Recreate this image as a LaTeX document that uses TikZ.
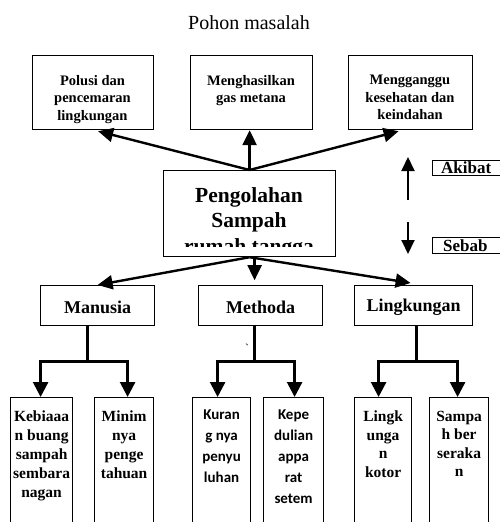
\documentclass[tikz,border=0pt]{standalone}
\usepackage{fontspec}
\setmainfont{Liberation Serif}
\newfontfamily\calfont{Carlito}
\usetikzlibrary{arrows.meta,calc}
\begin{document}
\begin{tikzpicture}[x=1pt,y=-1pt,
  box/.style={draw,line width=1.2pt,inner sep=0pt,anchor=north west},
  txt/.style={align=center,inner sep=0pt,font=\bfseries},
  arr/.style={line width=2.4pt,-{Triangle[width=14pt,length=15pt]}},
  tree/.style={line width=2.6pt},
  treearr/.style={line width=2.6pt,-{Triangle[width=15pt,length=15pt]}},
  sarr/.style={line width=2pt,-{Triangle[width=13pt,length=14pt]}},
  toptxt/.style={txt,anchor=north,font=\bfseries\fontsize{14.5}{17.5}\selectfont},
  midtxt/.style={txt,font=\bfseries\fontsize{18}{21}\selectfont},
  bottxt/.style={txt,anchor=north,font=\bfseries\fontsize{15.5}{19}\selectfont},
  caltxt/.style={txt,anchor=north,font=\calfont\bfseries\fontsize{15}{21}\selectfont},
  ]
\clip (0,0) rectangle (500,522);
\fill[white] (0,0) rectangle (500,522);

% title
\node (title) at (249,23) {\fontsize{20}{24}\selectfont Pohon masalah};

% top boxes (akibat)
\node[box,minimum width=121pt,minimum height=74pt] (e1) at (32,55) {};
\node[box,minimum width=122pt,minimum height=74pt] (e2) at (190,55) {};
\node[box,minimum width=124pt,minimum height=74pt] (e3) at (348,55) {};
\node[toptxt] (t1) at (92.5,75) {Polusi dan\\pencemaran\\lingkungan};
\node[toptxt] (t2) at (251,75) {Menghasilkan\\gas metana};
\node[toptxt] (t3) at (410,75) {Mengganggu\\kesehatan dan\\keindahan};

% central box
\node[box,minimum width=172pt,minimum height=86pt] (c) at (163,170) {};
\begin{scope}
  \clip (163,170) rectangle (335,246);
  \node[txt,anchor=north,font=\bfseries\fontsize{21.5}{25.5}\selectfont] (ct) at (249,187) {Pengolahan\\Sampah\\rumah tangga};
\end{scope}

% akibat / sebab
\node[box,minimum width=80pt,minimum height=15pt] (ak) at (432,160) {};
\node[box,minimum width=80pt,minimum height=16pt] (sb) at (432,237) {};
\node[inner sep=0pt,anchor=base west,font=\bfseries\fontsize{17}{20}\selectfont] (akt) at (441,173) {Akibat};
\node[inner sep=0pt,anchor=base west,font=\bfseries\fontsize{17}{20}\selectfont] (sbt) at (443,251) {Sebab};
\coordinate (ua) at (408,200);
\coordinate (ub) at (408,157);
\coordinate (da) at (408,222);
\coordinate (db) at (408,254);
\draw[sarr] (ua) -- (ub);
\draw[sarr] (da) -- (db);

% top arrows
\draw[arr] (c.north) -- ($(e1.south)+(5,1)$);
\draw[arr] (c.north) -- (c.north |- e2.south);
\draw[arr] (c.north) -- ($(e3.south)+(-12,1)$);

% middle boxes (sebab)
\node[box,minimum width=114pt,minimum height=40pt] (m1) at (40,285) {};
\node[box,minimum width=124pt,minimum height=40pt] (m2) at (198,285) {};
\node[box,minimum width=118pt,minimum height=40pt] (m3) at (354,285) {};
\node[midtxt] (m1t) at ($(m1.center)+(0,2)$) {Manusia};
\node[midtxt] (m2t) at ($(m2.center)+(0,2)$) {Methoda};
\node[midtxt] (m3t) at ($(m3.center)+(0,2)$) {Lingkungan};

% lower arrows
\draw[arr] (c.south) -- (m1.north);
\draw[arr] ($(c.south)+(5,0)$) -- ($(c.south)+(5,23)$);
\draw[arr] (c.south) -- ($(m3.north)+(-3,-2)$);

\node[inner sep=0pt,font=\fontsize{12}{12}\selectfont] (bt) at (247,348) {\textasciigrave};

% bottom boxes
\node[box,minimum width=62pt,minimum height=140pt] (a) at (10,397) {};
\node[box,minimum width=59pt,minimum height=140pt] (b) at (94,397) {};
\node[box,minimum width=58pt,minimum height=140pt] (cc) at (192,397) {};
\node[box,minimum width=60pt,minimum height=140pt] (d) at (263,397) {};
\node[box,minimum width=57pt,minimum height=140pt] (e) at (354,397) {};
\node[box,minimum width=59pt,minimum height=140pt] (f) at (429,397) {};

\node[bottxt] (at) at ($(a.north)+(0,14)$) {Kebiaaa\\n buang\\sampah\\sembara\\nagan};
\node[bottxt] (btt) at ($(b.north)+(0,14)$) {Minim\\nya\\penge\\tahuan};
\node[caltxt] (ct1) at ($(cc.north)+(0,13)$) {Kuran\\g nya\\penyu\\luhan};
\node[caltxt] (dt) at ($(d.north)+(0,13)$) {Kepe\\dulian\\appa\\rat\\setem};
\node[bottxt,font=\bfseries\fontsize{15.5}{18.5}\selectfont] (et) at ($(e.north)+(0,14)$) {Lingk\\unga\\n\\kotor};
\node[bottxt,font=\bfseries\fontsize{15.5}{18.5}\selectfont] (ft) at ($(f.north)+(0,14)$) {Sampa\\h ber\\seraka\\n};

% tree connectors
\coordinate (j1) at ($(m1.south)+(-10,35)$);
\coordinate (j2) at ($(m2.south)+(-6,35)$);
\coordinate (j3) at ($(m3.south)+(3,35)$);
\draw[tree] ($(m1.south)+(-10,0)$) -- (j1);
\draw[tree] ($(m2.south)+(-6,0)$) -- (j2);
\draw[tree] ($(m3.south)+(3,0)$) -- (j3);
\draw[treearr] (j1) -| ($(a.north)+(-1,0)$);
\draw[treearr] (j1) -| ($(b.north)+(3.5,0)$);
\draw[treearr] (j2) -| ($(cc.north)+(-4,0)$);
\draw[treearr] (j2) -| ($(d.north)+(1,0)$);
\draw[treearr] (j3) -| ($(e.north)+(-4.5,0)$);
\draw[treearr] (j3) -| ($(f.north)+(-1.5,0)$);
\end{tikzpicture}
\end{document}
